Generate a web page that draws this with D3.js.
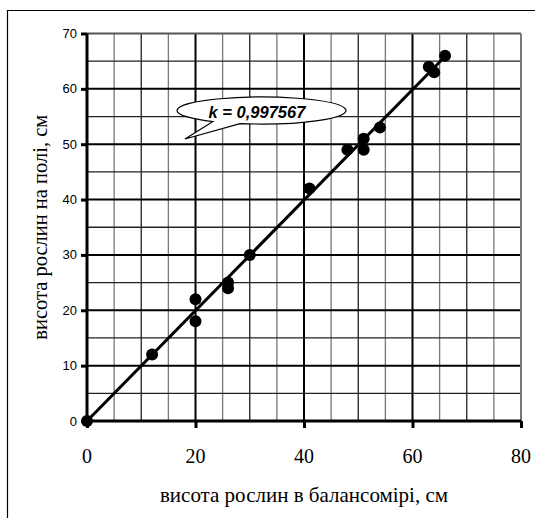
<!DOCTYPE html>
<html>
<head>
<meta charset="utf-8">
<script src="https://cdn.jsdelivr.net/npm/d3@7"></script>
<style>
  html, body { margin: 0; padding: 0; background: #fff; }
  svg { display: block; }
</style>
</head>
<body>
<svg id="chart" width="535" height="518"></svg>
<script>
// висота в балансомірі (x) та на полі (y)
const xVals = [0, 12, 20, 20, 26, 26, 30, 41, 48, 51, 51, 54, 63, 64, 66];
const yVals = [0, 12, 22, 18, 25, 24, 30, 42, 49, 51, 49, 53, 64, 63, 66];
const k = 0.997567;
const lineX = [0, 66];
const xTicks = [0, 20, 40, 60, 80];
const yTicks = [0, 10, 20, 30, 40, 50, 60, 70];
const xTitle = "висота рослин в балансомірі, см";
const yTitle = "висота рослин на полі, см";

var svg = d3.select("#chart");

var x = d3.scaleLinear().domain([0, 80]).range([87, 521]);
var y = d3.scaleLinear().domain([0, 70]).range([421, 33.5]);

// рамка
svg.append("path")
  .attr("d", "M7.5,518 V10.5 H535")
  .attr("fill", "none").attr("stroke", "#000").attr("stroke-width", 1.2);

var g = svg.append("g");

// сітка - вертикальні лінії
var vLines = d3.range(5, 80, 5);
g.selectAll(".vgrid")
  .data(vLines)
  .enter().append("line")
  .attr("x1", d => x(d)).attr("x2", d => x(d))
  .attr("y1", y(0)).attr("y2", y(70))
  .attr("stroke", d => d % 20 === 0 ? "#000" : (d % 10 === 0 ? "#222" : "#777"))
  .attr("stroke-width", d => d % 20 === 0 ? 2 : 1.3);

// сітка - горизонтальні лінії
var hLines = d3.range(5, 70, 5);
g.selectAll(".hgrid")
  .data(hLines)
  .enter().append("line")
  .attr("x1", x(0)).attr("x2", x(80))
  .attr("y1", d => y(d)).attr("y2", d => y(d))
  .attr("stroke", d => d % 10 === 0 ? "#000" : "#222")
  .attr("stroke-width", d => d % 10 === 0 ? 2 : 1.3);

// верхня та права межі
g.append("line")
  .attr("x1", x(0)).attr("x2", x(80)).attr("y1", y(70)).attr("y2", y(70))
  .attr("stroke", "#555").attr("stroke-width", 2);
g.append("line")
  .attr("x1", x(80)).attr("x2", x(80)).attr("y1", y(0)).attr("y2", y(70))
  .attr("stroke", "#777").attr("stroke-width", 2);

// осі
var xAxis = d3.axisBottom(x).tickValues(xTicks).tickSize(7).tickFormat("");
var yAxis = d3.axisLeft(y).tickValues(yTicks).tickSize(6).tickFormat("");

var gx = svg.append("g").attr("transform", `translate(0,${y(0)})`).call(xAxis);
gx.select(".domain").remove();
gx.selectAll(".tick line").attr("stroke", "#000").attr("stroke-width", 3);

var gy = svg.append("g").attr("transform", `translate(${x(0)},0)`).call(yAxis);
gy.select(".domain").remove();
gy.selectAll(".tick line").attr("stroke", "#000").attr("stroke-width", 3);

svg.append("line")
  .attr("x1", x(0)).attr("x2", x(80)).attr("y1", y(0)).attr("y2", y(0))
  .attr("stroke", "#000").attr("stroke-width", 3);
svg.append("line")
  .attr("x1", x(0)).attr("x2", x(0)).attr("y1", y(0) + 1.5).attr("y2", y(70))
  .attr("stroke", "#000").attr("stroke-width", 3);

// підписи поділок
svg.selectAll(".ylab")
  .data(yTicks)
  .enter().append("text")
  .attr("x", 77)
  .attr("y", d => y(d))
  .attr("dy", "0.35em")
  .attr("text-anchor", "end")
  .style("font-family", "Arial, 'Liberation Sans', sans-serif")
  .style("font-size", "13px")
  .text(d => d);

svg.selectAll(".xlab")
  .data(xTicks)
  .enter().append("text")
  .attr("x", d => x(d))
  .attr("y", 463)
  .attr("text-anchor", "middle")
  .style("font-family", "'Times New Roman', 'Liberation Serif', serif")
  .style("font-size", "20px")
  .text(d => d);

// назви осей
svg.append("text")
  .attr("x", (x(0) + x(80)) / 2)
  .attr("y", 502)
  .attr("text-anchor", "middle")
  .style("font-family", "'Times New Roman', 'Liberation Serif', serif")
  .style("font-size", "21px")
  .text(xTitle);

svg.append("text")
  .attr("transform", `translate(47,${(y(0) + y(70)) / 2}) rotate(-90)`)
  .attr("text-anchor", "middle")
  .style("font-family", "'Times New Roman', 'Liberation Serif', serif")
  .style("font-size", "20.5px")
  .text(yTitle);

// лінія тренду
var line = d3.line().x(d => x(d)).y(d => y(k * d));
svg.append("path")
  .datum(lineX)
  .attr("d", line)
  .attr("fill", "none")
  .attr("stroke", "#000")
  .attr("stroke-width", 3);

// точки
svg.selectAll(".dot")
  .data(xVals.map((v, i) => [v, yVals[i]]))
  .enter().append("circle")
  .attr("cx", d => x(d[0]))
  .attr("cy", d => y(d[1]))
  .attr("r", 6)
  .attr("fill", "#000");

// виноска з коефіцієнтом
var cx = 261.5, cy = 110.5, rx = 84.5, ry = 13.5;
var ax = 213, bx = 240;
var ay = cy + ry * Math.sqrt(1 - Math.pow((ax - cx) / rx, 2));
var by = cy + ry * Math.sqrt(1 - Math.pow((bx - cx) / rx, 2));
svg.append("path")
  .attr("d", `M${ax},${ay} L185,139 L${bx},${by} A${rx} ${ry} 0 1 0 ${ax},${ay} Z`)
  .attr("fill", "#fff")
  .attr("stroke", "#000")
  .attr("stroke-width", 1.2);

var lab = svg.append("text")
  .attr("x", 257)
  .attr("y", 118)
  .attr("text-anchor", "middle")
  .style("font-family", "Arial, 'Liberation Sans', sans-serif")
  .style("font-size", "16.5px")
  .style("font-weight", "bold")
  .style("font-style", "italic");
lab.append("tspan").text("k = " + String(k).replace(".", ","));
</script>
</body>
</html>
